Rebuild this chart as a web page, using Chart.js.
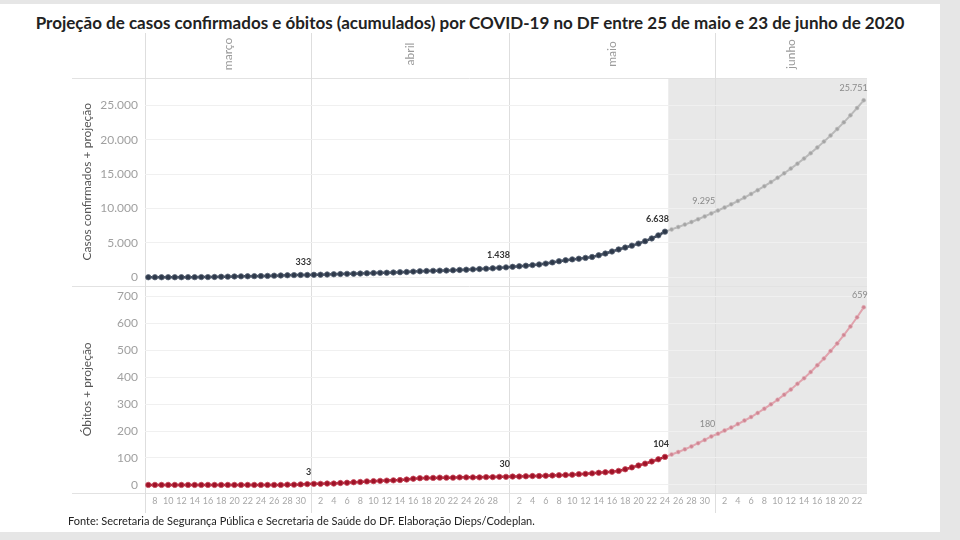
<!DOCTYPE html>
<html>
<head>
<meta charset="utf-8">
<script src="https://cdn.jsdelivr.net/npm/chart.js@4.4.0/dist/chart.umd.min.js"></script>
<style>
  html, body { margin: 0; padding: 0; }
  body { width: 960px; height: 540px; background: #e6e6e6; position: relative; overflow: hidden; font-family: Lato, 'Open Sans', sans-serif; }
  #card { position: absolute; left: 0; top: 4px; width: 940px; height: 528px; background: #fff; }
  #title { position: absolute; left: 0; top: 12px; width: 940px; text-align: center; font-weight: bold; font-size: 17px; color: #222; }
  #wrap { position: absolute; left: 0; top: 30px; width: 940px; height: 490px; }
  #source { position: absolute; left: 68px; top: 514px; font-size: 11px; color: #222; }
</style>
</head>
<body>
<div id="card"></div>
<div id="title">Projeção de casos confirmados e óbitos (acumulados) por COVID-19 no DF entre 25 de maio e 23 de junho de 2020</div>
<div id="wrap"><canvas id="myChart"></canvas></div>
<div id="source">Fonte: Secretaria de Segurança Pública e Secretaria de Saúde do DF. Elaboração Dieps/Codeplan.</div>
<script>
// período: 7 de março a 23 de junho de 2020
const firstDay = '2020-03-07';
const lastDay = '2020-06-23';
const monthNames = ['março', 'abril', 'maio', 'junho'];

// casos confirmados (7/mar a 24/mai)
const casesActual = [
  1, 1, 1, 2, 2, 7, 13, 13, 26, 26, 42, 72, 87, 115, 131, 141, 160, 172, 200, 230, 260, 289, 312, 332, 333,
  355, 370, 402, 434, 468, 495, 508, 540, 581, 610, 640, 657, 696, 735, 768, 822, 870, 908, 935, 960,
  980, 1012, 1066, 1100, 1148, 1195, 1250, 1300, 1372, 1438,
  1520, 1600, 1680, 1770, 1860, 1990, 2160, 2330, 2480, 2600, 2700, 2820, 2950, 3200, 3450, 3750,
  4050, 4320, 4600, 4900, 5250, 5650, 6100, 6638
];
// projeção de casos (25/mai a 23/jun)
const casesProj = [
  6965, 7308, 7668, 8046, 8443, 8859, 9295,
  9716, 10156, 10616, 11097, 11600, 12125, 12675, 13249, 13849, 14476, 15132, 15818, 16534,
  17283, 18066, 18885, 19740, 20634, 21569, 22546, 23567, 24635, 25751
];
// óbitos (7/mar a 24/mai)
const deathsActual = [
  0, 0, 0, 0, 0, 0, 0, 0, 0, 0, 0, 0, 0, 0, 0, 0, 0, 0, 0, 0, 0, 1, 1, 2, 3,
  4, 4, 5, 5, 7, 8, 10, 11, 13, 14, 15, 16, 17, 18, 20, 23, 25, 26, 26, 27, 27, 27, 28, 28, 28,
  28, 29, 29, 30, 30,
  31, 31, 32, 33, 33, 34, 35, 36, 37, 38, 40, 41, 43, 45, 47, 49, 52, 58, 65, 72, 79, 87, 95, 104
];
// projeção de óbitos (25/mai a 23/jun)
const deathsProj = [
  113, 122, 132, 143, 155, 167, 180,
  190, 202, 213, 226, 239, 252, 267, 283, 299, 316, 335, 354, 375,
  396, 419, 444, 469, 497, 525, 556, 588, 622, 659
];
const casesTicks = [0, 5000, 10000, 15000, 20000, 25000];
const deathsTicks = [0, 100, 200, 300, 400, 500, 600, 700];
const labelDates = ['2020-03-31', '2020-04-30', '2020-05-24', '2020-05-31', '2020-06-23'];

// datas do eixo x
const dates = [];
for (let d = new Date(firstDay + 'T12:00:00'); d <= new Date(lastDay + 'T12:00:00'); d.setDate(d.getDate() + 1)) {
  dates.push(new Date(d));
}
const isoDates = dates.map(d => d.toISOString().slice(0, 10));
const nActual = casesActual.length;
const gap = n => new Array(n).fill(null);

const fmt = v => String(Math.round(v)).replace(/\B(?=(\d{3})+(?!\d))/g, '.');

const panelsPlugin = {
  id: 'panels',
  beforeDraw(chart) {
    const { ctx, chartArea, scales } = chart;
    const x = scales.x;
    // área de projeção
    const xs = (x.getPixelForValue(nActual - 1) + x.getPixelForValue(nActual)) / 2;
    ctx.save();
    ctx.fillStyle = '#e8e8e8';
    ctx.fillRect(xs, chartArea.top, chartArea.right - xs, chartArea.bottom - chartArea.top);
    // linhas horizontais das faixas
    ctx.strokeStyle = '#e2e2e2';
    ctx.lineWidth = 1;
    [chartArea.top, scales.yCases.bottom, chartArea.bottom].forEach(yy => {
      ctx.beginPath();
      ctx.moveTo(72, Math.round(yy) + 0.5);
      ctx.lineTo(chartArea.right, Math.round(yy) + 0.5);
      ctx.stroke();
    });
    // divisões de mês + nomes
    const bounds = [chartArea.left];
    for (let i = 1; i < dates.length; i++) {
      if (dates[i].getDate() === 1) bounds.push((x.getPixelForValue(i - 1) + x.getPixelForValue(i)) / 2);
    }
    bounds.push(chartArea.right);
    ctx.strokeStyle = '#dedede';
    for (let b = 0; b < bounds.length - 1; b++) {
      ctx.beginPath();
      ctx.moveTo(Math.round(bounds[b]) + 0.5, 3);
      ctx.lineTo(Math.round(bounds[b]) + 0.5, chartArea.bottom + 20);
      ctx.stroke();
      const cx = (bounds[b] + bounds[b + 1]) / 2;
      ctx.save();
      ctx.translate(cx, 24);
      ctx.rotate(-Math.PI / 2);
      ctx.fillStyle = '#9a9a9a';
      ctx.font = '12px Lato, sans-serif';
      ctx.textAlign = 'center';
      ctx.textBaseline = 'middle';
      ctx.fillText(monthNames[b], 0, 0);
      ctx.restore();
    }
    ctx.restore();
  },
  afterDatasetsDraw(chart) {
    const { ctx } = chart;
    ctx.save();
    ctx.textAlign = 'right';
    ctx.textBaseline = 'bottom';
    chart.data.datasets.forEach((ds, i) => {
      const meta = chart.getDatasetMeta(i);
      labelDates.forEach(ld => {
        const idx = isoDates.indexOf(ld);
        const v = ds.data[idx];
        if (v == null) return;
        if (ds.projection && idx < nActual) return;
        const pt = meta.data[idx];
        ctx.fillStyle = ds.projection ? '#8a8a8a' : '#333';
        ctx.font = (ds.projection ? '' : 'bold ') + '9px Lato, sans-serif';
        ctx.fillText(fmt(v), pt.x + 4, pt.y - 8);
      });
    });
    ctx.restore();
  }
};

const yAxis = (title, lo, hi, tickList) => ({
  stack: 'painel',
  stackWeight: 1,
  position: 'left',
  min: lo,
  max: hi,
  afterFit: s => { s.width = 70; },
  afterBuildTicks: s => { s.ticks = tickList.map(v => ({ value: v })); },
  border: { display: false },
  grid: { color: '#f0f0f0', drawTicks: false },
  title: {
    display: true,
    text: title,
    color: '#555',
    font: { size: 12, family: 'Lato' },
    padding: { top: 5, bottom: 0 }
  },
  ticks: {
    autoSkip: false,
    padding: 7,
    color: '#a0a0a0',
    font: { size: 12, family: 'Lato' },
    callback: v => fmt(v)
  }
});

new Chart(document.getElementById('myChart'), {
  type: 'line',
  data: {
    labels: isoDates,
    datasets: [
      {
        label: 'Casos confirmados',
        yAxisID: 'yCases',
        data: casesActual.concat(gap(casesProj.length)),
        borderColor: '#3b4658',
        borderWidth: 2.5,
        pointRadius: 2.7,
        pointBackgroundColor: '#2e394a',
        pointBorderColor: '#5c6779',
        pointBorderWidth: 0.8,
        order: 1
      },
      {
        label: 'Projeção de casos',
        projection: true,
        yAxisID: 'yCases',
        data: gap(nActual - 1).concat([casesActual[nActual - 1]], casesProj),
        borderColor: '#b9b9b9',
        borderWidth: 2,
        pointRadius: 2,
        pointBackgroundColor: '#a4a4a4',
        pointBorderColor: '#c4c4c4',
        pointBorderWidth: 0.6,
        order: 2
      },
      {
        label: 'Óbitos',
        yAxisID: 'yDeaths',
        data: deathsActual.concat(gap(deathsProj.length)),
        borderColor: '#b01c30',
        borderWidth: 2.5,
        pointRadius: 2.7,
        pointBackgroundColor: '#9e1328',
        pointBorderColor: '#c9485a',
        pointBorderWidth: 0.8,
        order: 1
      },
      {
        label: 'Projeção de óbitos',
        projection: true,
        yAxisID: 'yDeaths',
        data: gap(nActual - 1).concat([deathsActual[nActual - 1]], deathsProj),
        borderColor: '#e0a3ad',
        borderWidth: 2,
        pointRadius: 2,
        pointBackgroundColor: '#cf8694',
        pointBorderColor: '#e6b3bb',
        pointBorderWidth: 0.6,
        order: 2
      }
    ]
  },
  options: {
    responsive: true,
    maintainAspectRatio: false,
    animation: false,
    layout: {
      padding: { top: 48, left: 75, right: 73, bottom: 9 }
    },
    plugins: {
      legend: { display: false },
      tooltip: { enabled: false }
    },
    scales: {
      x: {
        offset: true,
        grid: { display: false, drawTicks: false },
        border: { display: false },
        afterFit: s => { s.height = 18; },
        ticks: {
          autoSkip: false,
          maxRotation: 0,
          minRotation: 0,
          padding: 3,
          color: '#a8a8a8',
          font: { size: 9, family: 'Lato' },
          callback: (v, i) => {
            const d = dates[i];
            const day = d.getDate();
            if (day % 2 !== 0) return '';
            if (d.getMonth() === 3 && day === 30) return '';
            return String(day);
          }
        }
      },
      yDeaths: yAxis('Óbitos + projeção', -30, 740, deathsTicks),
      yCases: yAxis('Casos confirmados + projeção', -1200, 29000, casesTicks)
    }
  },
  plugins: [panelsPlugin]
});
</script>
</body>
</html>
